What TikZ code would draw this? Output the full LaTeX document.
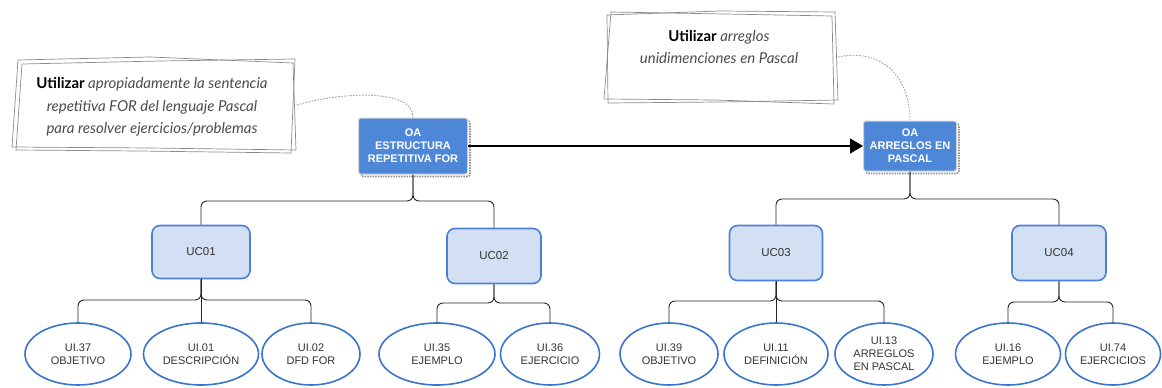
\documentclass[tikz,border=0pt]{standalone}
\usepackage{fontspec}
\setmainfont{Liberation Sans}
\newfontfamily\handfont{Lato}
\usetikzlibrary{arrows.meta,calc,shapes.geometric}

\definecolor{oafill}{HTML}{4F87D8}
\definecolor{ucfill}{HTML}{D3E0F4}
\definecolor{ucline}{HTML}{4A80D5}
\definecolor{uiline}{HTML}{3B74CE}
\definecolor{txt}{HTML}{333333}
\definecolor{sketch}{HTML}{8A8A8A}

\tikzset{
  oabox/.style={rectangle, rounded corners=2.5pt, fill=oafill, draw=gray!35,
    line width=1pt, text=white, font=\bfseries\fontsize{11}{13}\selectfont,
    align=center, inner sep=0pt,
    preaction={draw=gray!85, fill=none, densely dotted, line width=1.6pt,
      transform canvas={xshift=2.5pt,yshift=-2.5pt}}},
  ucbox/.style={rectangle, rounded corners=8pt, fill=ucfill, draw=ucline,
    line width=1.6pt, text=txt, font=\fontsize{11.5}{13}\selectfont, inner sep=0pt},
  uinode/.style={ellipse, draw=uiline, line width=1.6pt, fill=white, text=txt,
    font=\fontsize{11}{13}\selectfont, align=center, inner sep=0pt,
    minimum height=62pt},
  conn/.style={draw=black!85, line width=0.9pt, rounded corners=6pt},
  notetext/.style={font=\handfont\itshape\fontsize{15}{22.5}\selectfont,
    align=center, text=black!70, inner sep=0pt},
  sketchline/.style={draw=sketch, line width=0.7pt},
  noteconn/.style={draw=gray!75, line width=0.9pt, dash pattern=on 1.6pt off 1.4pt},
  bigarrow/.style={draw=black, line width=1.6pt, -{Triangle[length=13pt,width=15pt]}}
}

\begin{document}
\begin{tikzpicture}[x=1pt,y=-1pt]
\useasboundingbox (0,0) rectangle (1162,388);

% hand-drawn note frames
\draw[sketchline] (18,60) -- (150,57) -- (293,63) -- (296,150) -- (150,148) -- (12,147) -- cycle;
\draw[sketchline] (22,64) -- (160,61) -- (295,59) -- (291,153) -- (140,151) -- (16,150) -- cycle;
\draw[sketchline] (607,15) -- (720,11) -- (835,12) -- (838,100) -- (720,102) -- (608,103) -- cycle;
\draw[sketchline] (611,12) -- (725,14) -- (832,16) -- (834,104) -- (715,100) -- (604,99) -- cycle;

% note texts
\node[notetext] (n1) at (152,107)
  {{\upshape\bfseries\color{black}Utilizar} apropiadamente la sentencia\\
   repetitiva FOR del lenguaje Pascal\\
   para resolver ejercicios/problemas};
\node[notetext] (n2) at (719,47)
  {{\upshape\bfseries\color{black}Utilizar} arreglos\\
   unidimenciones en Pascal};
\coordinate (n1out) at (297,105);
\coordinate (n2out) at (838,57);

% learning objectives
\node[oabox, minimum width=109pt, minimum height=56pt] (oa1) at (413,146)
  {OA\\ESTRUCTURA\\REPETITIVA FOR};
\node[oabox, minimum width=93pt, minimum height=50pt] (oa2) at (910,146)
  {OA\\ARREGLOS EN\\PASCAL};

% competence units
\node[ucbox, minimum width=98pt, minimum height=53pt] (uc1) at (201,252) {UC01};
\node[ucbox, minimum width=94pt, minimum height=55pt] (uc2) at (494,256) {UC02};
\node[ucbox, minimum width=93pt, minimum height=55pt] (uc3) at (776,253) {UC03};
\node[ucbox, minimum width=94pt, minimum height=55pt] (uc4) at (1059,253) {UC04};

% learning items
\node[uinode, minimum width=106pt] (ui37) at (78,354)   {UI.37\\OBJETIVO};
\node[uinode, minimum width=115pt] (ui01) at (201,354)  {UI.01\\DESCRIPCIÓN};
\node[uinode, minimum width=98pt]  (ui02) at (311,354)  {UI.02\\DFD FOR};
\node[uinode, minimum width=116pt] (ui35) at (437,354)  {UI.35\\EJEMPLO};
\node[uinode, minimum width=99pt]  (ui36) at (550,354)  {UI.36\\EJERCICIO};
\node[uinode, minimum width=98pt]  (ui39) at (669,354)  {UI.39\\OBJETIVO};
\node[uinode, minimum width=104pt] (ui11) at (776,354)  {UI.11\\DEFINICIÓN};
\node[uinode, minimum width=98pt]  (ui13) at (884,354)  {UI.13\\ARREGLOS\\EN PASCAL};
\node[uinode, minimum width=105pt] (ui16) at (1008,354) {UI.16\\EJEMPLO};
\node[uinode, minimum width=95pt]  (ui74) at (1113,354) {UI.74\\EJERCICIOS};

% note connectors
\draw[noteconn] (n1out) .. controls (340,92) and (414,88) .. (oa1.north);
\draw[noteconn] (n2out) .. controls (880,48) and (910,75) .. (oa2.north);

% sequence arrow
\draw[bigarrow] (oa1.east) -- (oa2.west);

% brace levels
\coordinate (barA) at (0,201);
\coordinate (barB) at (0,199);
\coordinate (barC) at (0,300);
\coordinate (barD) at (0,303);
\coordinate (barE) at (0,301);
\coordinate (barF) at (0,302);

% OA -> UC
\foreach \c in {uc1,uc2}
  \draw[conn] (oa1.south) -- (oa1.south |- barA) -- (\c.north |- barA) -- (\c.north);
\foreach \c in {uc3,uc4}
  \draw[conn] (oa2.south) -- (oa2.south |- barB) -- (\c.north |- barB) -- (\c.north);

% UC -> UI
\foreach \c in {ui37,ui02}
  \draw[conn] (uc1.south) -- (uc1.south |- barC) -- (\c.north |- barC) -- (\c.north);
\draw[conn] (uc1.south) -- (ui01.north);
\foreach \c in {ui35,ui36}
  \draw[conn] (uc2.south) -- (uc2.south |- barD) -- (\c.north |- barD) -- (\c.north);
\foreach \c in {ui39,ui13}
  \draw[conn] (uc3.south) -- (uc3.south |- barE) -- (\c.north |- barE) -- (\c.north);
\draw[conn] (uc3.south) -- (ui11.north);
\foreach \c in {ui16,ui74}
  \draw[conn] (uc4.south) -- (uc4.south |- barF) -- (\c.north |- barF) -- (\c.north);
\end{tikzpicture}
\end{document}
